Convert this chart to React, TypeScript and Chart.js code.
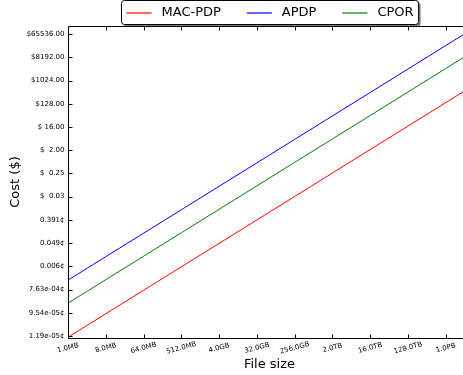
import React, { useEffect, useRef } from 'react';
import { Chart, registerables } from 'chart.js';

Chart.register(...registerables);

// File sizes in MB
const fileSizesMB = [1, 8, 64, 512, 4096, 32768, 262144, 2097152, 16777216, 134217728, 1073741824, 4294967296];
// Cost in dollars
const macPdpCost = [1.074e-7, 8.776e-7, 7.168e-6, 5.855e-5, 4.782e-4, 3.906e-3, 0.03191, 0.2606, 2.129, 17.39, 142.0, 576];
const apdpCost = [1.777e-5, 1.452e-4, 1.186e-3, 9.685e-3, 0.0791, 0.646, 5.278, 43.1, 352, 2876, 23494, 95290];
const cporCost = [2.268e-6, 1.853e-5, 1.514e-4, 1.236e-3, 0.0101, 0.0825, 0.674, 5.50, 44.9, 367, 2998, 12161];

const seriesNames = ['MAC-PDP', 'APDP', 'CPOR'];
const seriesColors = ['#ff0000', '#0000ff', '#008000'];

const xTickValues = [1, 8, 64, 512, 4096, 32768, 262144, 2097152, 16777216, 134217728, 1073741824];
const xTickLabels = ['1.0MB', '8.0MB', '64.0MB', '512.0MB', '4.0GB', '32.0GB', '256.0GB', '2.0TB', '16.0TB', '128.0TB', '1.0PB'];

const yTickValues = [
  1.1920928955078125e-7, 9.5367431640625e-7, 7.62939453125e-6, 6.103515625e-5, 0.00048828125,
  0.00390625, 0.03125, 0.25, 2, 16, 128, 1024, 8192, 65536,
];
const yTickLabels = [
  '1.19e-05¢', '9.54e-05¢', '7.63e-04¢', '0.006¢', '0.049¢', '0.391¢',
  '$  0.03', '$  0.25', '$  2.00', '$ 16.00', '$128.00', '$1024.00', '$8192.00', '$65536.00',
];

const xMin = 1;
const xMax = 4294967296;
const yMin = 1.0024e-7;
const yMax = 134700;

const FONT = '"DejaVu Sans", "Bitstream Vera Sans", sans-serif';

const framePlugin = {
  id: 'frameAndLegend',
  afterDraw(chart: any) {
    const { ctx, chartArea: a, scales } = chart;
    const xs = scales.x;
    const ys = scales.y;
    ctx.save();
    ctx.strokeStyle = '#000';
    ctx.lineWidth = 1;
    const L = Math.round(a.left) + 0.5;
    const T = Math.round(a.top) + 0.5;
    const R = Math.round(a.right) + 0.5;
    const B = Math.round(a.bottom) + 0.5;
    ctx.beginPath();
    ctx.moveTo(L, T); ctx.lineTo(R, T); ctx.lineTo(R, B); ctx.lineTo(L, B); ctx.closePath();
    ctx.stroke();

    // inward ticks
    ctx.beginPath();
    xs.ticks.forEach((t: any) => {
      const px = Math.round(xs.getPixelForValue(t.value)) + 0.5;
      ctx.moveTo(px, B); ctx.lineTo(px, B - 4);
      ctx.moveTo(px, T); ctx.lineTo(px, T + 4);
    });
    ys.ticks.forEach((t: any) => {
      const py = Math.round(ys.getPixelForValue(t.value)) + 0.5;
      ctx.moveTo(L, py); ctx.lineTo(L + 4, py);
      ctx.moveTo(R, py); ctx.lineTo(R - 4, py);
    });
    ctx.stroke();

    // rotated x tick labels
    ctx.fillStyle = '#000';
    ctx.font = '7px ' + FONT;
    ctx.textAlign = 'center';
    ctx.textBaseline = 'middle';
    xs.ticks.forEach((t: any, i: number) => {
      const px = xs.getPixelForValue(t.value);
      ctx.save();
      ctx.translate(px, a.bottom + 10);
      ctx.rotate(-15 * Math.PI / 180);
      ctx.fillText(xTickLabels[i] ?? '', 0, 0);
      ctx.restore();
    });

    // legend
    ctx.font = '13px ' + FONT;
    ctx.textAlign = 'left';
    const pad = 5, handle = 25, textPad = 10, colSep = 26;
    const widths = seriesNames.map((n) => ctx.measureText(n).width);
    const total = pad * 2 + seriesNames.length * (handle + textPad) + widths.reduce((s, w) => s + w, 0) + colSep * (seriesNames.length - 1);
    const cx = (a.left + a.right) / 2;
    const bx = Math.round(cx - total / 2) + 0.5;
    const by = 0.5;
    const bh = 24;
    const r = 3;
    const rr = (x: number, y: number, w: number, h: number) => {
      ctx.beginPath();
      ctx.moveTo(x + r, y);
      ctx.lineTo(x + w - r, y);
      ctx.arcTo(x + w, y, x + w, y + r, r);
      ctx.lineTo(x + w, y + h - r);
      ctx.arcTo(x + w, y + h, x + w - r, y + h, r);
      ctx.lineTo(x + r, y + h);
      ctx.arcTo(x, y + h, x, y + h - r, r);
      ctx.lineTo(x, y + r);
      ctx.arcTo(x, y, x + r, y, r);
      ctx.closePath();
    };
    ctx.fillStyle = 'rgba(0,0,0,0.5)';
    rr(bx + 2, by + 2, total, bh);
    ctx.fill();
    ctx.fillStyle = '#fff';
    rr(bx, by, total, bh);
    ctx.fill();
    ctx.strokeStyle = '#000';
    ctx.lineWidth = 1;
    ctx.stroke();
    let cur = bx + pad;
    const ly = by + bh / 2;
    seriesNames.forEach((n, i) => {
      ctx.lineWidth = 1.2;
      ctx.strokeStyle = seriesColors[i];
      ctx.beginPath();
      ctx.moveTo(cur, Math.round(ly));
      ctx.lineTo(cur + handle, Math.round(ly));
      ctx.stroke();
      cur += handle + textPad;
      ctx.fillStyle = '#000';
      ctx.textBaseline = 'middle';
      ctx.fillText(n, cur, ly + 0.5);
      cur += widths[i] + colSep;
    });
    ctx.restore();
  },
};

export default function App() {
  const ref = useRef<HTMLCanvasElement | null>(null);
  useEffect(() => {
    if (!ref.current) return;
    const allSeries = [macPdpCost, apdpCost, cporCost];
    const chart = new Chart(ref.current, {
      type: 'line',
      data: {
        datasets: allSeries.map((vals, i) => ({
          label: seriesNames[i],
          data: fileSizesMB.map((x, j) => ({ x, y: vals[j] })),
          borderColor: seriesColors[i],
          backgroundColor: seriesColors[i],
          borderWidth: 1,
          pointRadius: 0,
          fill: false,
          tension: 0,
        })),
      },
      options: {
        responsive: false,
        animation: false,
        devicePixelRatio: 1,
        layout: { padding: { top: 26, right: 9, left: 0, bottom: 0 } },
        plugins: { legend: { display: false }, tooltip: { enabled: false }, title: { display: false } },
        scales: {
          x: {
            type: 'logarithmic',
            min: xMin,
            max: xMax,
            bounds: 'data',
            afterBuildTicks: (s: any) => { s.ticks = xTickValues.map((v) => ({ value: v })); },
            afterFit: (s: any) => { s.height = 37; },
            ticks: { display: false },
            grid: { display: false, drawTicks: false },
            border: { display: false },
            title: {
              display: true,
              text: 'File size',
              color: '#000',
              font: { family: FONT, size: 13 },
              padding: { top: 0, bottom: 3 },
            },
          },
          y: {
            type: 'logarithmic',
            min: yMin,
            max: yMax,
            bounds: 'data',
            afterBuildTicks: (s: any) => { s.ticks = yTickValues.map((v) => ({ value: v })); },
            afterFit: (s: any) => { s.width = 68; },
            ticks: {
              autoSkip: false,
              padding: 3.5,
              color: '#000',
              font: { family: FONT, size: 7 },
              callback: (_v: any, i: number) => yTickLabels[i],
            },
            grid: { display: false, drawTicks: false },
            border: { display: false },
            title: {
              display: true,
              text: 'Cost ($)',
              color: '#000',
              font: { family: FONT, size: 13 },
              padding: { top: 8, bottom: 0 },
            },
          },
        },
      },
      plugins: [framePlugin],
    } as any);
    return () => chart.destroy();
  }, []);
  return (
    <div style={{ position: 'fixed', left: 0, top: 0, width: 463, height: 375, overflow: 'hidden', background: '#fff' }}>
      <canvas ref={ref} width={480} height={375} style={{ display: 'block', width: 480, height: 375 }} />
    </div>
  );
}
